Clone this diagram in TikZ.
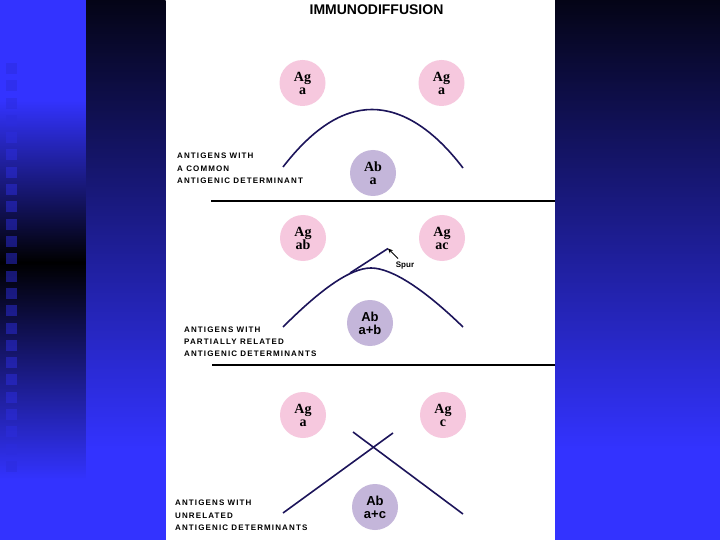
\documentclass[tikz,border=0pt]{standalone}
\usepackage{fontspec}
\setmainfont{Liberation Serif}
\setsansfont{Liberation Sans}
\newfontfamily\lblfont[LetterSpace=14]{Liberation Sans}
\usetikzlibrary{arrows.meta}
\definecolor{bb}{RGB}{51,51,255}
\definecolor{topdk}{RGB}{4,4,22}
\definecolor{sqc}{RGB}{44,44,222}
\definecolor{pinkc}{RGB}{246,200,222}
\definecolor{lavc}{RGB}{196,182,218}
\definecolor{navy}{RGB}{28,20,90}
\tikzset{
  agc/.style={circle, fill=pinkc, minimum size=46pt, inner sep=0pt, align=center,
    font=\bfseries\fontsize{14}{13}\selectfont},
  abc/.style={circle, fill=lavc, minimum size=46pt, inner sep=0pt, align=center,
    font=\sffamily\bfseries\fontsize{13}{13}\selectfont},
  abs/.style={abc, font=\bfseries\fontsize{14}{13}\selectfont},
  lbl/.style={anchor=west, inner sep=0pt, font=\lblfont\bfseries\fontsize{8}{8}\selectfont},
  arc/.style={draw=navy, line width=1.6pt},
  divider/.style={draw=black, line width=1.1pt}
}
\begin{document}
\begin{tikzpicture}[x=1pt,y=-1pt]
\useasboundingbox (0,0) rectangle (720,540);
% left strip
\fill[bb] (0,0) rectangle (86,100);
\shade[top color=bb, bottom color=black] (0,99.5) rectangle (86,262.5);
\shade[top color=black, bottom color=bb] (0,262) rectangle (86,480);
\fill[bb] (0,479.5) rectangle (86,540);
\foreach \i in {0,...,23} \fill[sqc, opacity=0.5] (6,63+17.3*\i) rectangle ++(11,11);
% gradient strips
\shade[top color=topdk, bottom color=bb] (86,0) rectangle (165.5,450);
\fill[bb] (86,449.5) rectangle (165.5,540);
\shade[top color=topdk, bottom color=bb] (555,0) rectangle (720,450);
\fill[bb] (555,449.5) rectangle (720,540);
% white panel
\fill[white] (165.5,0) rectangle (555,540);

\node[font=\sffamily\bfseries\fontsize{14}{14}\selectfont] (title) at (376.5,10) {IMMUNODIFFUSION};

% ---- section 1
\node[agc] (ag1l) at (302.5,83) {Ag\\a};
\node[agc] (ag1r) at (441.5,83) {Ag\\a};
\node[abs] (ab1) at (373,173) {Ab\\a};
\coordinate (c1a) at (283,167);
\coordinate (c1p) at (372,109.5);
\coordinate (c1b) at (463,168);
\draw[arc] (c1a) .. controls (312.7,128.5) and (342.3,109.5) .. (c1p)
  .. controls (401.7,109.5) and (433,128.5) .. (c1b);
\node[lbl] (l1a) at (177,156) {ANTIGENS WITH};
\node[lbl] (l1b) at (177,168.5) {A COMMON};
\node[lbl] (l1c) at (177,181) {ANTIGENIC DETERMINANT};
\coordinate (d1a) at (211,201);
\coordinate (d1b) at (555,201);
\draw[divider] (d1a) -- (d1b);

% ---- section 2
\node[agc] (ag2l) at (303,238) {Ag\\ab};
\node[agc] (ag2r) at (442,238) {Ag\\ac};
\node[abc] (ab2) at (370,323) {Ab\\a+b};
\coordinate (c2a) at (283,327);
\coordinate (c2p) at (371,268);
\coordinate (c2b) at (463,327);
\draw[arc] (c2a) .. controls (320,290) and (350,268) .. (c2p)
  .. controls (392,268) and (425,290) .. (c2b);
\coordinate (sp0) at (350,273);
\coordinate (sp1) at (388,248.5);
\draw[arc] (sp0) -- (sp1);
\node[font=\sffamily\bfseries\fontsize{8}{8}\selectfont, inner sep=0pt] (spur) at (405,265.5) {Spur};
\coordinate (spst) at (398,258.5);
\draw[draw=black, line width=0.8pt, -{Stealth[length=5pt,width=4.5pt]}] (spst) -- (sp1);
\node[lbl] (l2a) at (184,330) {ANTIGENS WITH};
\node[lbl] (l2b) at (184,342) {PARTIALLY RELATED};
\node[lbl] (l2c) at (184,354) {ANTIGENIC DETERMINANTS};
\coordinate (d2a) at (212,365);
\coordinate (d2b) at (555,365);
\draw[divider] (d2a) -- (d2b);

% ---- section 3
\node[agc] (ag3l) at (303,415) {Ag\\a};
\node[agc] (ag3r) at (443,415) {Ag\\c};
\node[abc] (ab3) at (375,507) {Ab\\a+c};
\coordinate (x1a) at (283,513);
\coordinate (x1b) at (393,433);
\coordinate (x2a) at (353,432);
\coordinate (x2b) at (463,514);
\draw[arc] (x1a) -- (x1b);
\draw[arc] (x2a) -- (x2b);
\node[lbl] (l3a) at (175,503) {ANTIGENS WITH};
\node[lbl] (l3b) at (175,515.5) {UNRELATED};
\node[lbl] (l3c) at (175,528) {ANTIGENIC DETERMINANTS};
\end{tikzpicture}
\end{document}
